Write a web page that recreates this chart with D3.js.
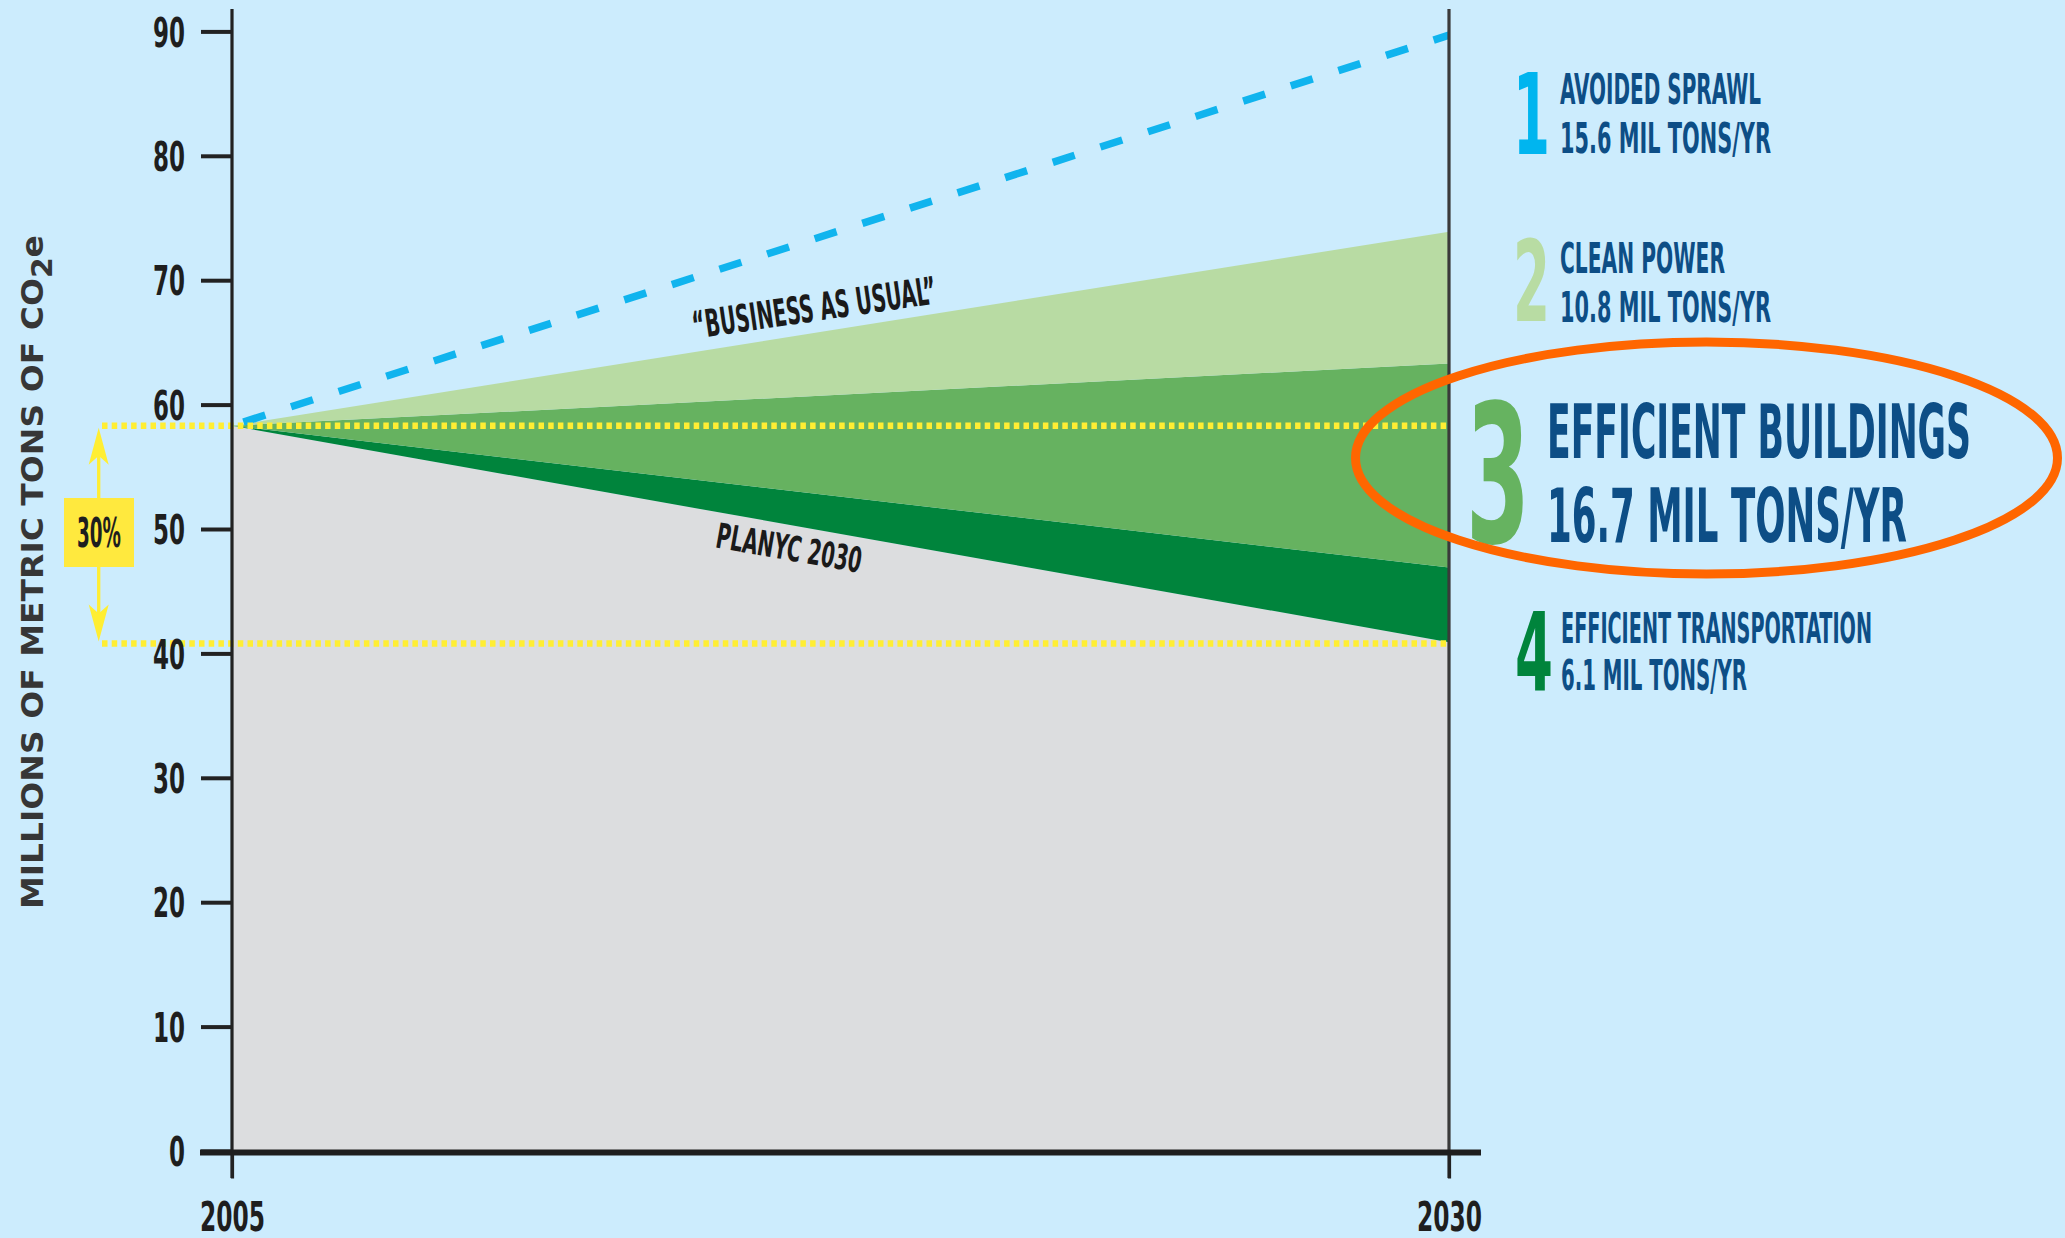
<!DOCTYPE html>
<html>
<head>
<meta charset="utf-8">
<script src="https://cdn.jsdelivr.net/npm/d3@7"></script>
<style>
  html, body { margin: 0; padding: 0; background: #CCECFD; }
  svg { display: block; }
</style>
</head>
<body>
<svg id="chart" width="2065" height="1238"></svg>
<script>
// ---------------- DATA ----------------
const years = [2005, 2030];
const businessAsUsual = [58.3, 89.7];        // dashed line
const afterAvoidedSprawl = [58.3, 73.9];     // top of light green (clean power)
const afterCleanPower = [58.3, 63.3];        // top of medium green (buildings)
const afterEfficientBuildings = [58.3, 46.9];// top of dark green (transportation)
const planyc2030 = [58.3, 40.9];             // top of grey
const targetLevels = [58.3, 40.8];           // yellow dotted lines (30%)
const yTicks = [0, 10, 20, 30, 40, 50, 60, 70, 80, 90];
const xTicks = [2005, 2030];
const wedgeNumbers = ["1", "2", "3", "4"];
const wedgeNames = ["AVOIDED SPRAWL", "CLEAN POWER", "EFFICIENT BUILDINGS", "EFFICIENT TRANSPORTATION"];
const wedgeAmounts = ["15.6 MIL TONS/YR", "10.8 MIL TONS/YR", "16.7 MIL TONS/YR", "6.1 MIL TONS/YR"];
const reductionLabel = "30%";

// ---------------- SETUP ----------------
const svg = d3.select("#chart");
const W = 2065, H = 1238;
const COND = "'Liberation Sans Narrow','DejaVu Sans Condensed','Roboto Condensed','Arial Narrow','Liberation Sans',sans-serif";

svg.append("rect").attr("width", W).attr("height", H).attr("fill", "#CCECFD");

const x = d3.scaleLinear().domain([2005, 2030]).range([232, 1449]);
const y = d3.scaleLinear().domain([0, 90]).range([1151, 31.4]);

const rows = years.map((yr, i) => ({
  year: yr,
  bau: businessAsUsual[i],
  sprawl: afterAvoidedSprawl[i],
  power: afterCleanPower[i],
  buildings: afterEfficientBuildings[i],
  plan: planyc2030[i]
}));

const area = (lo, hi) => d3.area()
  .x(d => x(d.year))
  .y0(d => typeof lo === "function" ? y(lo(d)) : y(lo))
  .y1(d => y(hi(d)));

// grey: PlaNYC
svg.append("path").datum(rows).attr("fill", "#DCDDDF")
  .attr("d", area(0, d => d.plan));
// dark green: transportation
svg.append("path").datum(rows).attr("fill", "#00843C")
  .attr("d", area(d => d.plan, d => d.buildings));
// medium green: buildings
svg.append("path").datum(rows).attr("fill", "#66B260")
  .attr("d", area(d => d.buildings, d => d.power));
// light green: clean power
svg.append("path").datum(rows).attr("fill", "#B8DBA3")
  .attr("d", area(d => d.power, d => d.sprawl));

// BAU dashed line
svg.append("path").datum(rows)
  .attr("fill", "none")
  .attr("stroke", "#10B4EE")
  .attr("stroke-width", 7.5)
  .attr("stroke-dasharray", "0 12 23 15 ")
  .attr("d", d3.line().x(d => x(d.year)).y(d => y(d.bau)));

// yellow dotted target lines
svg.selectAll("line.target").data(targetLevels).join("line")
  .attr("class", "target")
  .attr("x1", 102).attr("x2", x(2030))
  .attr("y1", d => y(d)).attr("y2", d => y(d))
  .attr("stroke", "#FFEE33")
  .attr("stroke-width", 6.5)
  .attr("stroke-dasharray", "5.5 4.2");

// right vertical line at 2030
svg.append("line")
  .attr("x1", x(2030)).attr("x2", x(2030))
  .attr("y1", 9).attr("y2", 1178)
  .attr("stroke", "#3a3a3a").attr("stroke-width", 3.2);

// ---------------- AXES ----------------
const yAxisG = svg.append("g").attr("transform", `translate(${x(2005)},0)`)
  .call(d3.axisLeft(y).tickValues(yTicks).tickSize(31).tickPadding(16));
yAxisG.select(".domain").remove();
yAxisG.selectAll(".tick line").attr("stroke", "#222").attr("stroke-width", 4);
yAxisG.selectAll(".tick text")
  .attr("fill", "#1e1e1e")
  .attr("font-family", COND)
  .attr("font-weight", "bold")
  .attr("font-size", 41)
  .attr("dy", "0.36em")
  .attr("textLength", d => String(d).length * 16)
  .attr("lengthAdjust", "spacingAndGlyphs");

// left axis line
svg.append("line")
  .attr("x1", x(2005)).attr("x2", x(2005))
  .attr("y1", 9).attr("y2", 1178)
  .attr("stroke", "#222").attr("stroke-width", 3.2);

const xAxisG = svg.append("g").attr("transform", `translate(0,${y(0) + 1.5})`)
  .call(d3.axisBottom(x).tickValues(xTicks).tickSize(26).tickFormat(d3.format("d")));
xAxisG.select(".domain").remove();
xAxisG.selectAll(".tick line").attr("stroke", "#222").attr("stroke-width", 3.2);
xAxisG.selectAll(".tick text")
  .attr("y", 78).attr("dy", 0)
  .attr("fill", "#1e1e1e")
  .attr("font-family", COND)
  .attr("font-weight", "bold")
  .attr("font-size", 41)
  .attr("textLength", 65)
  .attr("lengthAdjust", "spacingAndGlyphs");

// x axis baseline
svg.append("line")
  .attr("x1", 200).attr("x2", 1481)
  .attr("y1", y(0) + 1.5).attr("y2", y(0) + 1.5)
  .attr("stroke", "#1e1e1e").attr("stroke-width", 6);

// y axis title
const yt = svg.append("text")
  .attr("transform", "translate(43,909) rotate(-90)")
  .attr("fill", "#363636")
  .attr("font-family", "'DejaVu Sans','Open Sans',sans-serif")
  .attr("font-weight", "bold")
  .attr("font-size", 31)
  .attr("textLength", 674)
  .attr("lengthAdjust", "spacingAndGlyphs");
yt.append("tspan").text("MILLIONS OF METRIC TONS OF CO");
yt.append("tspan").attr("dy", 9).attr("font-size", 28).text("2");
yt.append("tspan").attr("dy", -9).text("e");

// ---------------- IN-CHART LABELS ----------------
svg.append("text")
  .attr("transform", "translate(816,321) rotate(-8.3)")
  .attr("text-anchor", "middle")
  .attr("fill", "#1a1a1a")
  .attr("font-family", COND)
  .attr("font-weight", "bold")
  .attr("font-size", 38)
  .attr("textLength", 246)
  .attr("lengthAdjust", "spacingAndGlyphs")
  .text("\u201CBUSINESS AS USUAL\u201D");

svg.append("text")
  .attr("transform", "translate(787,560) rotate(10)")
  .attr("text-anchor", "middle")
  .attr("fill", "#1a1a1a")
  .attr("font-family", COND)
  .attr("font-weight", "bold")
  .attr("font-size", 35)
  .attr("textLength", 147)
  .attr("lengthAdjust", "spacingAndGlyphs")
  .text("PLANYC 2030");

// ---------------- 30% MARKER ----------------
const yc = "#FFEE33";
const topY = y(targetLevels[0]) + 2, botY = y(targetLevels[1]) - 2;
const ax = 98.7;
svg.append("line").attr("x1", ax).attr("x2", ax).attr("y1", topY + 20).attr("y2", 498)
  .attr("stroke", yc).attr("stroke-width", 3.3);
svg.append("line").attr("x1", ax).attr("x2", ax).attr("y1", 567).attr("y2", botY - 20)
  .attr("stroke", yc).attr("stroke-width", 3.3);
svg.append("path")
  .attr("d", `M${ax},${topY} L${ax + 10},${topY + 37} L${ax},${topY + 28} L${ax - 10},${topY + 37} Z`)
  .attr("fill", yc);
svg.append("path")
  .attr("d", `M${ax},${botY} L${ax + 10},${botY - 37} L${ax},${botY - 28} L${ax - 10},${botY - 37} Z`)
  .attr("fill", yc);
svg.append("rect").attr("x", 64).attr("y", 498).attr("width", 70).attr("height", 69)
  .attr("fill", "#FFE93E");
svg.append("text")
  .attr("x", 99).attr("y", 547)
  .attr("text-anchor", "middle")
  .attr("fill", "#1e1e1e")
  .attr("font-family", COND)
  .attr("font-weight", "bold")
  .attr("font-size", 40)
  .attr("textLength", 44)
  .attr("lengthAdjust", "spacingAndGlyphs")
  .text(reductionLabel);

// ---------------- LEGEND ----------------
const numColors = ["#00B5EF", "#B8DCA3", "#66B360", "#00843C"];
const legendLayout = [
  { numX: 1513, numBase: 154, numSize: 112, numW: 37, txtX: 1560, nameBase: 103.6, amtBase: 152.7, size: 42, nameW: 201, amtW: 211 },
  { numX: 1513, numBase: 321, numSize: 112, numW: 37, txtX: 1560, nameBase: 273, amtBase: 322, size: 42, nameW: 165, amtW: 211 },
  { numX: 1466, numBase: 542, numSize: 193, numW: 64, txtX: 1547, nameBase: 457.6, amtBase: 542, size: 75, nameW: 424, amtW: 360 },
  { numX: 1515, numBase: 690, numSize: 109, numW: 38, txtX: 1561, nameBase: 643, amtBase: 689.7, size: 42, nameW: 311, amtW: 186 }
];
const textBlue = "#0D4E86";
wedgeNumbers.forEach((n, i) => {
  const L = legendLayout[i];
  svg.append("text")
    .attr("x", L.numX).attr("y", L.numBase)
    .attr("fill", numColors[i])
    .attr("font-family", COND)
    .attr("font-weight", "bold")
    .attr("font-size", L.numSize)
    .attr("textLength", L.numW)
    .attr("lengthAdjust", "spacingAndGlyphs")
    .text(n);
  svg.append("text")
    .attr("x", L.txtX).attr("y", L.nameBase)
    .attr("fill", textBlue)
    .attr("font-family", COND)
    .attr("font-weight", "bold")
    .attr("font-size", L.size)
    .attr("textLength", L.nameW)
    .attr("lengthAdjust", "spacingAndGlyphs")
    .text(wedgeNames[i]);
  svg.append("text")
    .attr("x", L.txtX).attr("y", L.amtBase)
    .attr("fill", textBlue)
    .attr("font-family", COND)
    .attr("font-weight", "bold")
    .attr("font-size", L.size)
    .attr("textLength", L.amtW)
    .attr("lengthAdjust", "spacingAndGlyphs")
    .text(wedgeAmounts[i]);
});

// orange highlight ellipse
svg.append("ellipse")
  .attr("cx", 1706.5).attr("cy", 458)
  .attr("rx", 351).attr("ry", 116)
  .attr("fill", "none")
  .attr("stroke", "#FF6600")
  .attr("stroke-width", 9);
</script>
</body>
</html>
